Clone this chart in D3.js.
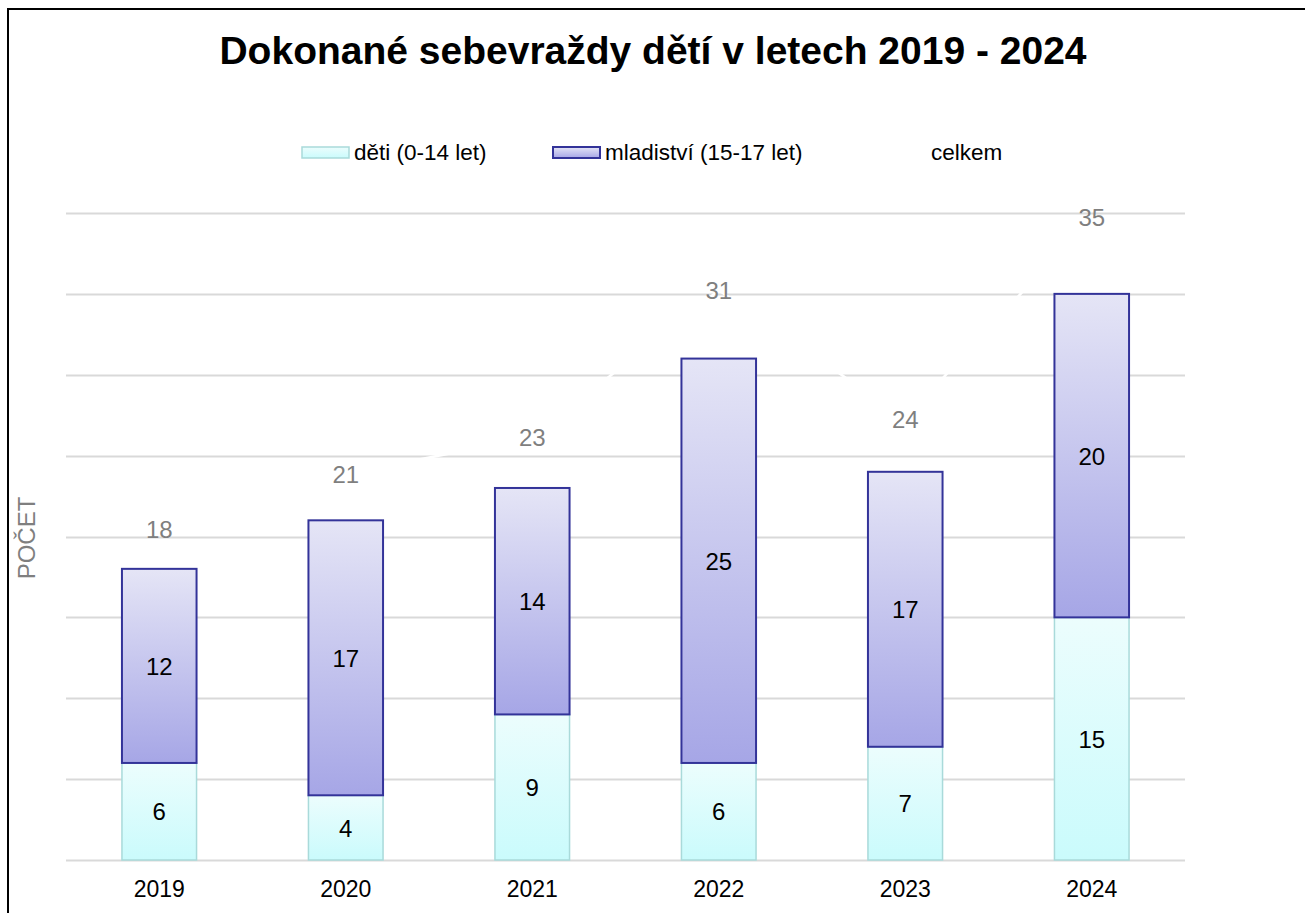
<!DOCTYPE html>
<html>
<head>
<meta charset="utf-8">
<script src="https://cdn.jsdelivr.net/npm/d3@7"></script>
<style>
  body { margin: 0; background: #fff; }
  text { font-family: "Liberation Sans", Arial, sans-serif; }
</style>
</head>
<body>
<div id="chart"></div>
<script>
// data
var years = ["2019", "2020", "2021", "2022", "2023", "2024"];
var deti = [6, 4, 9, 6, 7, 15];
var mladistvi = [12, 17, 14, 25, 17, 20];
var celkem = [18, 21, 23, 31, 24, 35];
var yTicks = [0, 5, 10, 15, 20, 25, 30, 35, 40];

var W = 1305, H = 913;
var margin = { top: 213, right: 120, bottom: 53, left: 66 },
    width = W - margin.left - margin.right,
    height = H - margin.top - margin.bottom;

var svg = d3.select("#chart").append("svg")
    .attr("width", W).attr("height", H);

// gradients
var defs = svg.append("defs");
var g1 = defs.append("linearGradient").attr("id", "gDeti")
    .attr("x1", 0).attr("y1", 0).attr("x2", 0).attr("y2", 1);
g1.append("stop").attr("offset", "0%").attr("stop-color", "#ecfdfd");
g1.append("stop").attr("offset", "100%").attr("stop-color", "#cafbfc");
var g2 = defs.append("linearGradient").attr("id", "gMlad")
    .attr("x1", 0).attr("y1", 0).attr("x2", 0).attr("y2", 1);
g2.append("stop").attr("offset", "0%").attr("stop-color", "#e5e5f6");
g2.append("stop").attr("offset", "100%").attr("stop-color", "#a6a6e6");

// outer frame
svg.append("rect")
    .attr("x", 8).attr("y", 9).attr("width", W + 20).attr("height", H + 20)
    .attr("fill", "none").attr("stroke", "#000").attr("stroke-width", 2);

svg.append("text")
    .attr("x", 653).attr("y", 64)
    .attr("text-anchor", "middle")
    .attr("font-size", 39).attr("font-weight", "bold")
    .text("Dokonané sebevraždy dětí v letech 2019 - 2024");

var canvas = svg.append("g")
    .attr("transform", "translate(" + margin.left + "," + margin.top + ")");

var x = d3.scaleBand().domain(years).range([0, width]).paddingInner(0.6).paddingOuter(0.3);
var y = d3.scaleLinear().domain([0, 40]).range([height, 0]);
var y2 = d3.scaleLinear().domain([0, 35.2]).range([height, 0]);

// gridlines
canvas.append("g").selectAll("line")
    .data(yTicks).enter().append("line")
    .attr("x1", 0).attr("x2", width)
    .attr("y1", function (d) { return Math.round(y(d)) + 0.5; })
    .attr("y2", function (d) { return Math.round(y(d)) + 0.5; })
    .attr("stroke", "#d9d9d9").attr("stroke-width", 2);

// x axis labels
canvas.append("g").selectAll("text")
    .data(years).enter().append("text")
    .attr("x", function (d) { return x(d) + x.bandwidth() / 2; })
    .attr("y", height + 37)
    .attr("text-anchor", "middle")
    .attr("font-size", 23)
    .text(function (d) { return d; });

// bars - deti
var bars = canvas.append("g");
bars.selectAll(".deti")
    .data(years).enter().append("rect")
    .attr("x", function (d) { return x(d); })
    .attr("y", function (d, i) { return y(deti[i]); })
    .attr("width", x.bandwidth())
    .attr("height", function (d, i) { return y(0) - y(deti[i]); })
    .attr("fill", "url(#gDeti)")
    .attr("stroke", "#a9dada").attr("stroke-width", 1.5);

bars.selectAll(".mlad")
    .data(years).enter().append("rect")
    .attr("x", function (d) { return x(d); })
    .attr("y", function (d, i) { return y(deti[i] + mladistvi[i]); })
    .attr("width", x.bandwidth())
    .attr("height", function (d, i) { return y(deti[i]) - y(deti[i] + mladistvi[i]); })
    .attr("fill", "url(#gMlad)")
    .attr("stroke", "#333399").attr("stroke-width", 2);

// bar labels
canvas.append("g").selectAll("text")
    .data(years).enter().append("text")
    .attr("x", function (d) { return x(d) + x.bandwidth() / 2; })
    .attr("y", function (d, i) { return y(deti[i] / 2) + 9; })
    .attr("text-anchor", "middle").attr("font-size", 24)
    .text(function (d, i) { return deti[i]; });
canvas.append("g").selectAll("text")
    .data(years).enter().append("text")
    .attr("x", function (d) { return x(d) + x.bandwidth() / 2; })
    .attr("y", function (d, i) { return y(deti[i] + mladistvi[i] / 2) + 9; })
    .attr("text-anchor", "middle").attr("font-size", 24)
    .text(function (d, i) { return mladistvi[i]; });

// total line (white) on secondary scale
var line = d3.line()
    .x(function (d, i) { return x(years[i]) + x.bandwidth() / 2; })
    .y(function (d) { return y2(d); });
canvas.append("path")
    .datum(celkem)
    .attr("d", line)
    .attr("fill", "none")
    .attr("stroke", "#fff").attr("stroke-width", 2.5);

canvas.append("g").selectAll("text")
    .data(celkem).enter().append("text")
    .attr("x", function (d, i) { return x(years[i]) + x.bandwidth() / 2; })
    .attr("y", function (d) { return y2(d) + 9; })
    .attr("text-anchor", "middle").attr("font-size", 24)
    .attr("fill", "#7f7f7f")
    .text(function (d) { return d; });

// y axis title
svg.append("text")
    .attr("transform", "translate(35,538) rotate(-90)")
    .attr("text-anchor", "middle")
    .attr("font-size", 24).attr("fill", "#7f7f7f")
    .text("POČET");

// legend
var legend = svg.append("g");
legend.append("rect").attr("x", 302).attr("y", 147).attr("width", 47).attr("height", 11)
    .attr("fill", "url(#gDeti)").attr("stroke", "#a9dada").attr("stroke-width", 1.5);
legend.append("text").attr("x", 354).attr("y", 160).attr("font-size", 22.5).text("děti (0-14 let)");
legend.append("rect").attr("x", 553).attr("y", 147).attr("width", 47).attr("height", 11)
    .attr("fill", "url(#gMlad)").attr("stroke", "#333399").attr("stroke-width", 2);
legend.append("text").attr("x", 605).attr("y", 160).attr("font-size", 22.5).text("mladiství (15-17 let)");
legend.append("line").attr("x1", 880).attr("x2", 926).attr("y1", 152).attr("y2", 152)
    .attr("stroke", "#fff").attr("stroke-width", 2.5);
legend.append("text").attr("x", 931).attr("y", 160).attr("font-size", 22.5).text("celkem");
</script>
</body>
</html>
